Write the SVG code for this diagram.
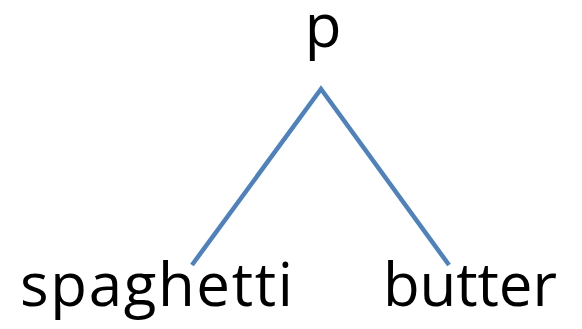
<svg xmlns="http://www.w3.org/2000/svg" width="582" height="329" viewBox="0 0 582 329">
<style>
.lbl{font-family:"Open Sans","Noto Sans","Liberation Sans",sans-serif;font-size:60px;fill:#000}
.edge{stroke:#4f81bd;stroke-width:4.5;fill:none;stroke-linejoin:miter}
</style>
<rect width="582" height="329" fill="#fff"/>
<g id="connectors">
<polyline class="edge" points="192,265 321,89 449,265"/>
</g>
<g id="node-p"><text class="lbl" x="323" y="47" text-anchor="middle">p</text></g>
<g id="node-spaghetti"><text class="lbl" x="20" y="306" textLength="273" lengthAdjust="spacing">spaghetti</text></g>
<g id="node-butter"><text class="lbl" x="383" y="306" textLength="174" lengthAdjust="spacing">butter</text></g>
</svg>
